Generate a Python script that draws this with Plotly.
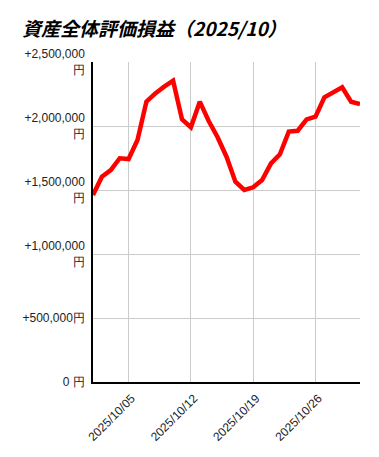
import plotly.graph_objects as go
import pandas as pd

dates = pd.date_range("2025-10-01", "2025-10-31", freq="D").strftime("%Y-%m-%d").tolist()
values = [1461000, 1604000, 1656000, 1748000, 1742000, 1891000, 2190000, 2255000,
          2307000, 2354000, 2052000, 1990000, 2190000, 2039000, 1912000, 1760000,
          1565000, 1500000, 1521000, 1578000, 1708000, 1779000, 1956000, 1963000,
          2052000, 2073000, 2224000, 2268000, 2302000, 2190000, 2172000]

y_tickvals = [0, 500000, 1000000, 1500000, 2000000, 2500000]
y_ticktext = ["0 円", "+500,000円", "+1,000,000<br>円", "+1,500,000<br>円",
              "+2,000,000<br>円", "+2,500,000<br>円"]
x_tickvals = ["2025-10-05", "2025-10-12", "2025-10-19", "2025-10-26"]
x_ticktext = ["2025/10/05", "2025/10/12", "2025/10/19", "2025/10/26"]
title_text = "資産全体評価損益（2025/10）"

W, H = 363, 441
fig = go.Figure()
fig.add_trace(go.Scatter(x=dates, y=values, mode="lines",
                         line=dict(color="#ff0000", width=4.5),
                         showlegend=False, hoverinfo="skip"))

fig.update_layout(
    width=W, height=H,
    margin=dict(l=85, r=11, t=54, b=67, autoexpand=False),
    paper_bgcolor="white", plot_bgcolor="white",
    title=dict(text=title_text, x=14/W, xanchor="left", xref="container",
               y=1 - 21/H, yanchor="middle", yref="container", automargin=False,
               font=dict(family="Noto Sans CJK JP", size=19, color="#000000",
                         weight="bold", style="italic")),
    font=dict(family="Liberation Sans, Arial", size=12, color="#222222"),
)
fig.update_xaxes(
    type="date", range=["2025-10-01", "2025-10-31"],
    tickvals=x_tickvals, ticktext=x_ticktext, tickangle=-45,
    showgrid=True, gridcolor="#cccccc", gridwidth=1,
    showline=True, linecolor="#000000", linewidth=1.5,
    ticks="", zeroline=False, automargin=False,
    ticklabelshift=3, ticklabelstandoff=3,
    tickfont=dict(size=12, color="#222222"),
)
fig.update_yaxes(
    range=[0, 2500000], tickvals=y_tickvals, ticktext=y_ticktext,
    showgrid=True, gridcolor="#cccccc", gridwidth=1,
    showline=True, linecolor="#000000", linewidth=1.5,
    ticks="", zeroline=False, automargin=False, ticklabelstandoff=4,
    tickfont=dict(size=12, color="#222222"),
)
fig.write_html("out.html")
